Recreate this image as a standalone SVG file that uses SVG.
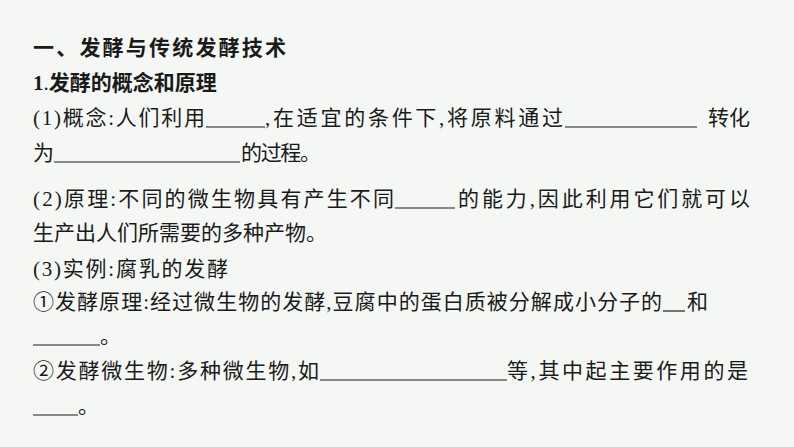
<svg xmlns="http://www.w3.org/2000/svg" width="794" height="447" viewBox="0 0 794 447">
<style>
text{font-family:"Liberation Serif","Noto Sans CJK SC",serif;font-size:21px;fill:#1a1a1a}
.b{font-weight:bold}
line{stroke:#1a1a1a;stroke-width:1.2}
</style>
<rect width="794" height="447" fill="#f5f7f5"/>
<g id="title"><text x="33" y="55" class="b" textLength="253" lengthAdjust="spacing">一、发酵与传统发酵技术</text></g>
<g id="h1"><text x="33" y="90"><tspan class="b">1</tspan><tspan>.</tspan><tspan class="b">发酵的概念和原理</tspan></text></g>
<g id="p1">
<text x="33" y="125" textLength="172" lengthAdjust="spacing">(1)概念:人们利用</text><line x1="206" y1="127" x2="265" y2="127"/>
<text x="265" y="125" textLength="298" lengthAdjust="spacing">,在适宜的条件下,将原料通过</text><line x1="565" y1="127" x2="697" y2="127"/>
<text x="708" y="125" textLength="42" lengthAdjust="spacing">转化</text>
<text x="33" y="160">为</text><line x1="54" y1="162" x2="240" y2="162"/><text x="241" y="160" textLength="80" lengthAdjust="spacing">的过程。</text>
</g>
<g id="p2">
<text x="33" y="206" textLength="361" lengthAdjust="spacing">(2)原理:不同的微生物具有产生不同</text><line x1="395" y1="208" x2="455" y2="208"/>
<text x="458" y="206" textLength="292" lengthAdjust="spacing">的能力,因此利用它们就可以</text>
<text x="33" y="240" textLength="294" lengthAdjust="spacing">生产出人们所需要的多种产物。</text>
</g>
<g id="p3">
<text x="33" y="276" textLength="195" lengthAdjust="spacing">(3)实例:腐乳的发酵</text>
<text x="33" y="309" textLength="629" lengthAdjust="spacing">①发酵原理:经过微生物的发酵,豆腐中的蛋白质被分解成小分子的</text><line x1="663" y1="311" x2="685" y2="311"/><text x="687" y="309">和</text>
<line x1="33" y1="345" x2="100" y2="345"/><text x="100" y="343">。</text>
<text x="33" y="378" textLength="286" lengthAdjust="spacing">②发酵微生物:多种微生物,如</text><line x1="320" y1="380" x2="507" y2="380"/>
<text x="507" y="378" textLength="241" lengthAdjust="spacing">等,其中起主要作用的是</text>
<line x1="33" y1="415" x2="78" y2="415"/><text x="78" y="413">。</text>
</g>
</svg>
